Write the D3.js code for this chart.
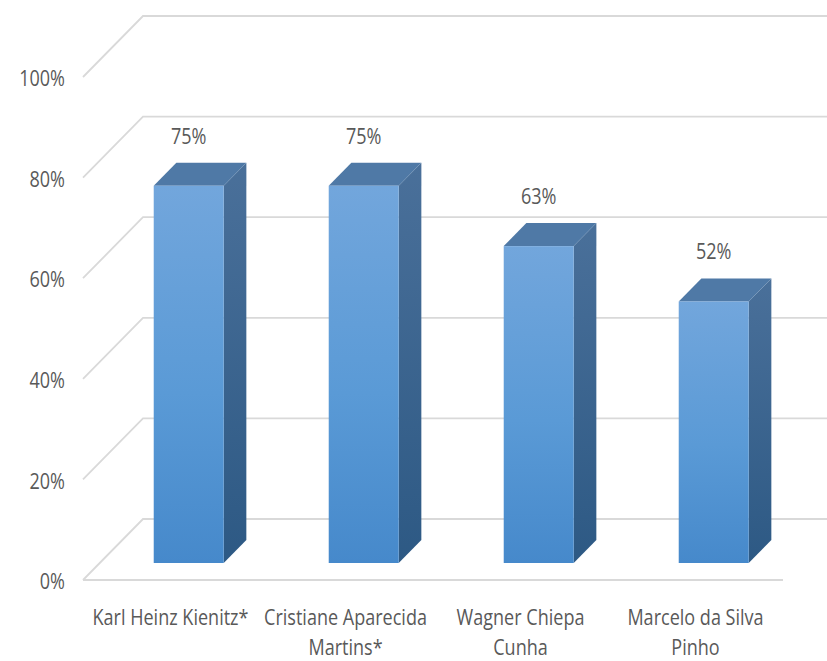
<!DOCTYPE html>
<html>
<head>
<meta charset="utf-8">
<script src="https://cdn.jsdelivr.net/npm/d3@7/dist/d3.min.js"></script>
<style>
  html, body { margin: 0; padding: 0; background: #ffffff; }
  svg { display: block; }
  text { font-family: "Open Sans", "Liberation Sans", sans-serif; fill: #595959; }
</style>
</head>
<body>
<svg id="chart" width="827" height="661"></svg>
<script>
// Share of each researcher (percent)
const categories = [
  ["Karl Heinz Kienitz*"],
  ["Cristiane Aparecida", "Martins*"],
  ["Wagner Chiepa", "Cunha"],
  ["Marcelo da Silva", "Pinho"]
];
const values = [75, 75, 63, 52];
const tickValues = [0, 20, 40, 60, 80, 100];
const tickLabels = ["0%", "20%", "40%", "60%", "80%", "100%"];
const valueLabels = ["75%", "75%", "63%", "52%"];

const svg = d3.select("#chart");
const W = 827, H = 661;

// Front plane of the 3D box and its depth offset
const x0 = 83, x1 = 783;
const depthX = 60, depthY = 61;       // back wall offset
const barFront = 17, barBack = 40;    // bar depth slab (in px along the diagonal)
const textScaleX = 0.82;

const x = d3.scaleBand().domain(d3.range(categories.length)).range([x0, x1]);
const y = d3.scaleLinear().domain([0, 100]).range([580, 77]);

// project a front-plane point back by d px along the depth diagonal
const P = (px, py, d) => [px + d * depthX / depthY, py - d];

// Gradients
const defs = svg.append("defs");
const gFront = defs.append("linearGradient").attr("id", "gFront")
  .attr("x1", 0).attr("y1", 0).attr("x2", 0).attr("y2", 1);
gFront.append("stop").attr("offset", "0%").attr("stop-color", "#72a6dc");
gFront.append("stop").attr("offset", "55%").attr("stop-color", "#5a9ad6");
gFront.append("stop").attr("offset", "100%").attr("stop-color", "#4689cb");
const gSide = defs.append("linearGradient").attr("id", "gSide")
  .attr("x1", 0).attr("y1", 0).attr("x2", 0).attr("y2", 1);
gSide.append("stop").attr("offset", "0%").attr("stop-color", "#4a709a");
gSide.append("stop").attr("offset", "100%").attr("stop-color", "#2d5984");

// Gridlines: front diagonal + back-wall horizontal
const grid = svg.append("g").attr("stroke", "#d9d9d9").attr("stroke-width", 1.8).attr("fill", "none");
tickValues.forEach(t => {
  const yf = y(t);
  const b = P(x0, yf, depthY);
  grid.append("path").attr("d", `M${x0},${yf}L${b[0]},${b[1]}L${W + 20},${b[1]}`);
});
// floor front edge
grid.append("line").attr("x1", x0).attr("x2", x1).attr("y1", y(0)).attr("y2", y(0));

// Tick labels
svg.append("g").selectAll("text").data(tickValues).join("text")
  .attr("transform", d => `translate(65,${y(d) + 1}) scale(${textScaleX},1)`)
  .attr("text-anchor", "end").attr("dominant-baseline", "central")
  .attr("font-size", 22)
  .text((d, i) => tickLabels[i]);

// Bars
const barW = x.bandwidth() * 0.4;
const bars = svg.append("g");
values.forEach((v, i) => {
  const cx = x(i) + x.bandwidth() / 2 + 1.5;
  const lx = cx - barW / 2, rx = cx + barW / 2;
  const [flx, fby] = P(lx, y(0), barFront);
  const [frx] = P(rx, y(0), barFront);
  const fty = P(lx, y(v), barFront)[1];
  const dd = barBack - barFront;
  const dx = dd * depthX / depthY;
  const g = bars.append("g");
  // side
  g.append("path").attr("fill", "url(#gSide)")
    .attr("d", `M${frx},${fty}L${frx + dx},${fty - dd}L${frx + dx},${fby - dd}L${frx},${fby}Z`);
  // top
  g.append("path").attr("fill", "#4f79a6")
    .attr("d", `M${flx},${fty}L${flx + dx},${fty - dd}L${frx + dx},${fty - dd}L${frx},${fty}Z`);
  // front
  g.append("rect").attr("fill", "url(#gFront)")
    .attr("x", flx).attr("y", fty).attr("width", frx - flx).attr("height", fby - fty);
  // value label
  svg.append("text")
    .attr("transform", `translate(${(flx + frx) / 2},${fty - dd - 19}) scale(${textScaleX},1)`)
    .attr("text-anchor", "middle").attr("font-size", 22)
    .text(valueLabels[i]);
});

// Category labels
const cat = svg.append("g");
categories.forEach((lines, i) => {
  const cx = x(i) + x.bandwidth() / 2;
  lines.forEach((ln, j) => {
    cat.append("text")
      .attr("transform", `translate(${cx},${625 + j * 30}) scale(${textScaleX},1)`)
      .attr("text-anchor", "middle").attr("font-size", 22)
      .text(ln);
  });
});
</script>
</body>
</html>
